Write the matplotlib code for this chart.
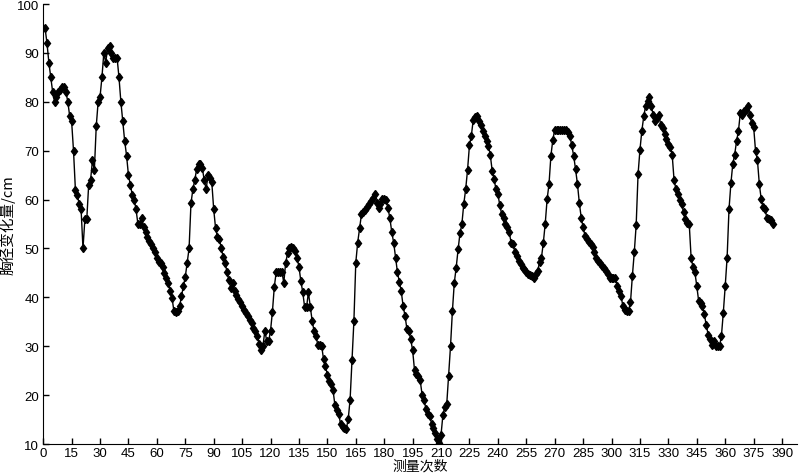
import matplotlib
matplotlib.use("Agg")
import matplotlib.pyplot as plt
import numpy as np

plt.rcParams['font.family'] = ['Liberation Sans', 'Noto Sans CJK SC', 'DejaVu Sans']

vals = [
    95, 92, 88, 85, 82, 80, 81, 82, 82.5, 83,
    83, 82, 80, 77, 76, 70, 62, 61, 59, 58,
    50, 56, 56, 63, 64, 68, 66, 75, 80, 81,
    85, 90, 88, 91, 91.5, 90, 89, 89, 89, 85,
    80, 76, 72, 69, 65, 63, 61, 60, 58, 55,
    55.1, 56.3, 54.3, 53.3, 52.4, 51.5, 50.9, 50, 49.2, 48.1,
    47.3, 47, 46.2, 45, 44, 43, 41.3, 39.9, 37.2, 37,
    37.2, 38.2, 40.3, 42.3, 44.2, 47.1, 50, 59.2, 62.1, 64,
    66.2, 67.3, 67.3, 66.4, 64, 62.1, 65, 64.5, 63.5, 58,
    54.1, 52.4, 51.9, 50, 48.3, 47.1, 45.2, 43.5, 42, 43,
    41.3, 40.4, 39.7, 39, 38.2, 37.5, 36.9, 36.2, 35.3, 34.8,
    33.8, 33.1, 32.1, 30.4, 29.2, 30, 33.2, 31, 31, 33.2,
    37.1, 42.2, 45.2, 45.2, 45.2, 45.2, 43, 47.1, 49, 50,
    50.2, 50, 49.5, 48, 46.3, 43.3, 41.1, 38, 38, 41,
    38, 35.1, 33.1, 32.1, 30.2, 30.2, 30, 27.3, 25.9, 24.2,
    22.8, 22.2, 21, 17.9, 17, 16.2, 14, 13.5, 13.3, 13.1,
    15.1, 19.1, 27.1, 35.1, 47.1, 51.2, 54.1, 57, 57.4, 57.8,
    58.4, 59.1, 59.7, 60.4, 61.2, 59.3, 58.2, 59.1, 60.2, 60.2,
    59.9, 58.2, 56.2, 53.3, 51.2, 48.1, 45.1, 43.2, 41.2, 38.2,
    36.2, 33.5, 33.1, 31.4, 29.2, 25.1, 24.4, 23.9, 23, 20.1,
    19.1, 17.2, 16.2, 15.7, 14.2, 13.3, 12.3, 11, 10.3, 11.9,
    16, 17.6, 18.1, 24, 30, 37.2, 43, 46.1, 49.8, 53.1,
    55, 59.1, 62.1, 66.1, 71.1, 73.1, 76.3, 76.8, 77, 76.1,
    75.2, 74.1, 73.1, 72, 71, 69.1, 65.9, 64.2, 62.1, 61.1,
    58.9, 57, 56.3, 55, 54.3, 53.3, 51.2, 51, 49.2, 48.5,
    47.4, 46.8, 46.1, 45.7, 45.1, 44.7, 44.5, 44.4, 44, 44.7,
    45.4, 47.2, 48.1, 51.2, 55.1, 60.1, 63.2, 69, 72.2, 74.3,
    74.3, 74.3, 74.3, 74.3, 74.3, 74.3, 73.9, 73.1, 71.1, 69,
    66.2, 63.2, 59.3, 56.3, 54.3, 52.6, 51.9, 51.3, 50.9, 50.2,
    49.2, 48.1, 47.4, 47.1, 46.4, 46.1, 45.4, 44.7, 44, 44,
    44, 44, 42.3, 41.3, 40.3, 38.2, 37.5, 37.3, 37.3, 39,
    44.4, 49.2, 54.8, 65.2, 70.2, 74.1, 77, 79.2, 80.2, 81,
    79.2, 77.2, 76.1, 76.6, 77.2, 75.3, 74.6, 73.5, 72.4, 71.4,
    70.7, 69.2, 64, 62.1, 61.1, 60, 59.1, 57.4, 56, 55.3,
    55.1, 48.1, 46.2, 45.1, 42.3, 39.2, 38.9, 38.2, 36.5, 34.3,
    32.4, 31.4, 30.2, 31, 30, 30, 30, 32.1, 36.9, 42.3,
    48.1, 58, 63.3, 67.3, 69.2, 72, 74.1, 77.8, 77.2, 78.2,
    78.3, 79.2, 77.2, 75.6, 74.9, 70, 68.1, 63.2, 60.1, 58.4,
    58, 56.3, 56, 55.8, 55.1,
]
x = np.arange(1, len(vals) + 1)

xticks = list(range(0, 391, 15))
yticks = list(range(10, 101, 10))

fig = plt.figure(figsize=(8, 4.77), dpi=100)
ax = fig.add_axes([0.054, 0.067, 0.9425, 0.9225])
ax.plot(x, vals, color='black', linewidth=1.0, marker='d', markersize=4.5,
        markerfacecolor='black', markeredgecolor='black')

ax.set_xlim(0, 398)
ax.set_ylim(10, 100)
ax.set_xticks(xticks)
ax.set_yticks(yticks)
ax.spines['top'].set_visible(False)
ax.spines['right'].set_visible(False)
ax.tick_params(direction='in', length=4, labelsize=9.5, width=1)
ax.tick_params(axis='x', pad=2)
ax.tick_params(axis='y', pad=3)
ax.set_xlabel('测量次数', fontsize=10, family=['Noto Sans CJK SC'], labelpad=0)
ax.set_ylabel('胸径变化量/cm', fontsize=10.5, family=['Noto Sans CJK SC', 'DejaVu Sans'], labelpad=1)

fig.savefig('out.png', dpi=100)
